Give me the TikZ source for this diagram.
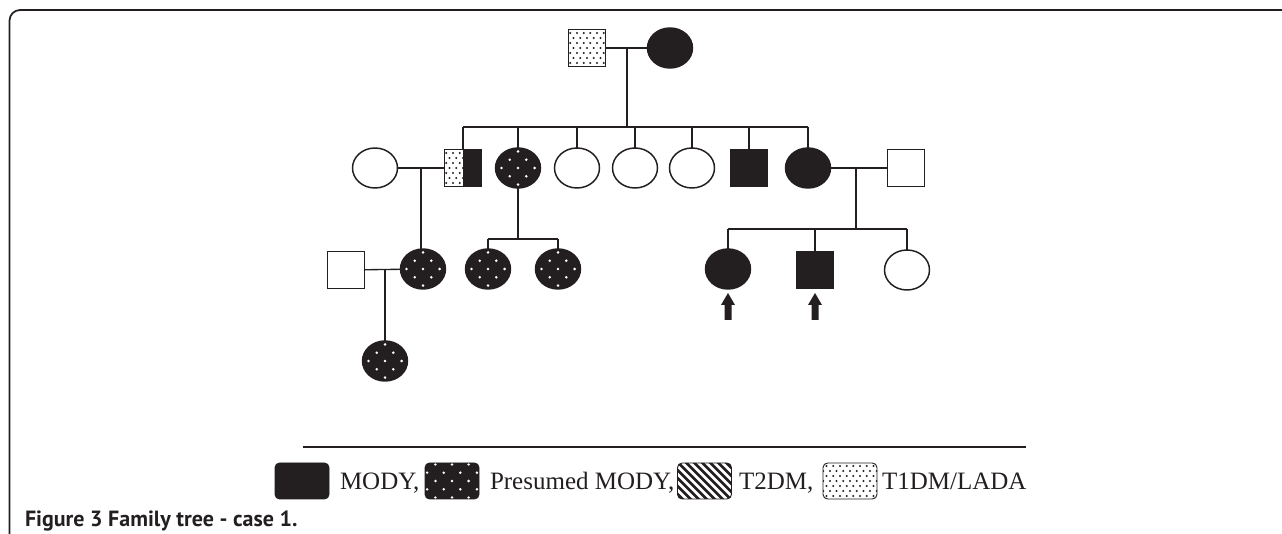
\documentclass[tikz,border=0pt]{standalone}
\usepackage{fontspec}
\setmainfont{Liberation Serif}
\newfontfamily\capfont{PT Sans}
\usetikzlibrary{shapes.geometric}
\definecolor{ink}{HTML}{231F20}
\begin{document}
\begin{tikzpicture}[x=0.75pt,y=-0.75pt,
  every node/.style={inner sep=0pt, outer sep=0pt},
  pers/.style={draw=ink, line width=1.1pt},
  male/.style={pers, rectangle, minimum width=27.75pt, minimum height=27.75pt},
  female/.style={pers, ellipse, minimum width=33.75pt, minimum height=30pt},
  aff/.style={fill=ink},
  wdots/.style={fill=ink, path picture={%
    \foreach \j in {-4,...,4}{\foreach \i in {-3,...,3}{%
      \fill[white] ([shift={({(2*\i+mod(abs(\j),2))*8.3},{\j*8.3})}]path picture bounding box.center) circle[radius=1.05pt];}}}},
  bdots/.style={fill=white, path picture={%
    \foreach \j in {-5,...,5}{\foreach \i in {-7,...,7}{%
      \fill[ink] ([shift={({(2*\i+mod(abs(\j),2))*3.35},{\j*5})}]path picture bounding box.center) circle[radius=0.85pt];}}}},
  halfsq/.style={fill=white, path picture={%
    \foreach \j in {-5,...,5}{\foreach \i in {-7,...,0}{%
      \fill[ink] ([shift={({(2*\i+mod(abs(\j),2))*3.35},{\j*5})}]path picture bounding box.center) circle[radius=0.85pt];}}
    \fill[ink] (path picture bounding box.north) rectangle (path picture bounding box.south east);}},
  hatch/.style={fill=white, path picture={%
    \foreach \k in {-12,...,12}{%
      \draw[ink, line width=2.1pt] ([shift={(\k*8-40,-40)}]path picture bounding box.center) -- ++(80,80);}}},
  legbox/.style={rectangle, draw=ink, line width=0.7pt, rounded corners=3.5pt, minimum width=40.5pt, minimum height=27pt},
  legtext/.style={anchor=base west, font=\fontsize{18.75}{22}\selectfont, text=ink},
  link/.style={draw=ink, line width=1pt},
]
\useasboundingbox (0,0) rectangle (1282,534);
\fill[white] (0,0) rectangle (1282,534);
% frame
\draw[ink, line width=1.3pt, rounded corners=8pt] (9.5,540) -- (9.5,10) -- (1290,10);

% generation I
\node[male,bdots] (g1m) at (587,48) {};
\node[female,aff] (g1f) at (670,48) {};
\draw[link] (g1m) -- (g1f);
\coordinate (c1) at (627,48);
\coordinate (sib1) at (627,127);
\draw[link] (c1) -- (sib1);

% generation II
\node[female] (s2a) at (375,168) {};
\node[male,halfsq] (b1) at (463,168) {};
\node[female,wdots] (b2) at (518,168) {};
\node[female] (b3) at (577,168) {};
\node[female] (b4) at (635,168) {};
\node[female] (b5) at (692,168) {};
\node[male,aff] (b6) at (749,168) {};
\node[female,aff] (b7) at (808,168) {};
\node[male] (s2b) at (906,168) {};
\draw[link] (b1.north |- sib1) -- (b7.north |- sib1);
\foreach \n in {b1,b2,b3,b4,b5,b6,b7}{\draw[link] (\n.north |- sib1) -- (\n.north);}

% generation III
\node[male] (g3s) at (346,270) {};
\node[female,wdots] (g3a) at (423,269) {};
\node[female,wdots] (g3b) at (488,269) {};
\node[female,wdots] (g3c) at (558,269) {};
\node[female,aff] (r1) at (728,269) {};
\node[male,aff] (r2) at (815,270) {};
\node[female] (r3) at (907,270) {};

% couple s2a - b1
\draw[link] (s2a) -- (b1);
\coordinate (c2) at (421,168);
\draw[link] (c2) -- (c2 |- g3a.north);

% b2 children
\coordinate (sib2) at (518,239);
\draw[link] (b2.south) -- (sib2);
\draw[link] (g3b.north |- sib2) -- (g3c.north |- sib2);
\foreach \n in {g3b,g3c}{\draw[link] (\n.north |- sib2) -- (\n.north);}

% couple b7 - s2b
\draw[link] (b7) -- (s2b);
\coordinate (c3) at (856,168);
\coordinate (sib3) at (856,229);
\draw[link] (c3) -- (sib3);
\draw[link] (r1.north |- sib3) -- (r3.north |- sib3);
\foreach \n in {r1,r2,r3}{\draw[link] (\n.north |- sib3) -- (\n.north);}

% generation IV
\node[female,wdots] (g4) at (385,361) {};
\draw[link] (g3s) -- (g3a);
\coordinate (c4) at (385,270);
\draw[link] (c4) -- (g4.north);

% proband arrows
\foreach \x in {728,815}{%
  \fill[ink] ({\x+3.5},320) -- ({\x+3.5},305) -- ({\x+7},305) -- (\x,293) -- ({\x-7},305) -- ({\x-3.5},305) -- ({\x-3.5},320) -- cycle;}

% legend
\coordinate (l1) at (303,447);
\coordinate (l2) at (1026,447);
\draw[ink, line width=0.9pt] (l1) -- (l2);
\node[legbox,fill=ink] (k1) at (302,481) {};
\node[legtext] (t1) at (340,489) {MODY,};
\node[legbox,wdots] (k2) at (452,481) {};
\node[legtext] (t2) at (490,489) {Presumed MODY,};
\node[legbox,hatch] (k3) at (704.5,481) {};
\node[legtext] (t3) at (739,489) {T2DM,};
\node[legbox,bdots] (k4) at (850,481) {};
\node[legtext] (t4) at (882,489) {T1DM/LADA};

% caption
\node[anchor=base west, font=\capfont\bfseries\fontsize{16.5}{19}\selectfont, text=ink] (cap) at (25,527) {Figure 3 Family tree - case 1.};
\end{tikzpicture}
\end{document}
